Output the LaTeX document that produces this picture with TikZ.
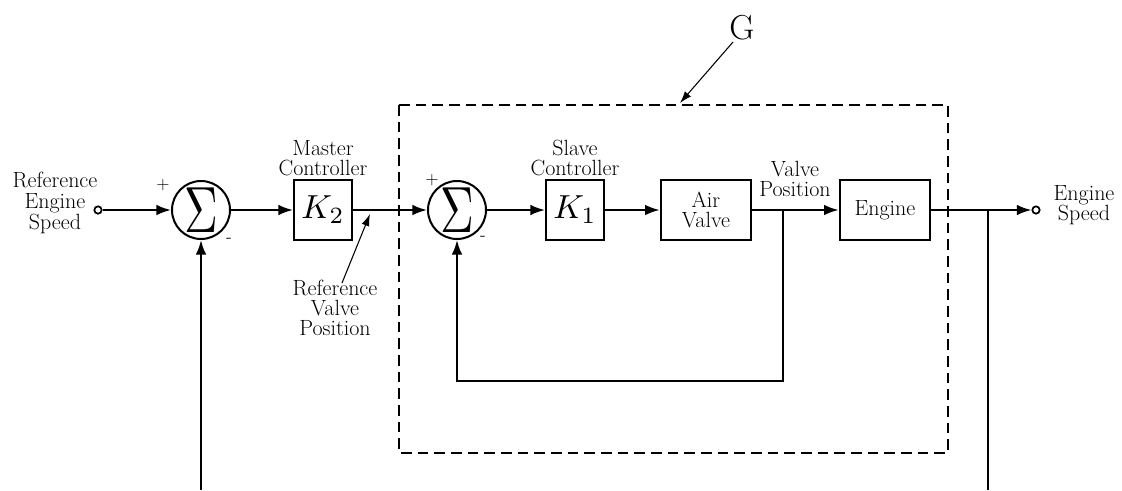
\documentclass[tikz,border=0pt]{standalone}
\usepackage{fontspec}
\usepackage{graphicx}
\usetikzlibrary{arrows.meta}
\begin{document}
\begin{tikzpicture}[x=0.75pt,y=-0.75pt,
  every node/.style={font=\fontsize{16.5}{15}\selectfont},
  ln/.style={line width=1.5pt},
  arr/.style={ln,-{Latex[length=11pt,width=8pt]}},
  thinarr/.style={line width=0.8pt,-{Latex[length=9pt,width=6pt]}},
  blk/.style={draw,line width=1.5pt,minimum width=43.5pt,minimum height=45pt,inner sep=0pt,font=\fontsize{10}{10}\selectfont},
  wblk/.style={draw,line width=1.5pt,minimum width=68pt,minimum height=44.5pt,inner sep=0pt,align=center},
  sumc/.style={draw,circle,line width=1.5pt,minimum size=43.5pt,inner sep=0pt,font=\fontsize{10}{10}\selectfont},
  port/.style={draw,circle,line width=1.3pt,minimum size=5.5pt,inner sep=0pt,fill=white},
  lbl/.style={align=center,inner sep=0pt},
  sgn/.style={inner sep=0pt,font=\fontsize{13}{13}\selectfont}
]
\useasboundingbox (0,0) rectangle (1122,490);

% dashed boundary of G
\draw[line width=1.3pt,dash pattern=on 8pt off 4.5pt] (399,105) rectangle (948,453);

% nodes
\node[port] (in) at (98,210) {};
\node[sumc] (s1) at (201,210) {\scalebox{3.5}[4.9]{$\Sigma$}};
\node[blk] (k2) at (323,210) {\scalebox{2.5}{$K_2$}};
\node[sumc] (s2) at (457,210) {\scalebox{3.5}[4.9]{$\Sigma$}};
\node[blk] (k1) at (575,210) {\scalebox{2.5}{$K_1$}};
\node[wblk] (av) at (706,210) {Air\\Valve};
\node[wblk] (eng) at (885,210) {Engine};
\node[port] (out) at (1036,210) {};

% labels
\node[lbl] (lref) at (55,203) {Reference\\[0.5pt]Engine\\[0.5pt]Speed};
\node[lbl] (lmc) at (323,158) {Master\\[0.5pt]Controller};
\node[lbl] (lsc) at (575,158) {Slave\\[0.5pt]Controller};
\node[lbl] (lvp) at (795,179) {Valve\\Position};
\node[lbl] (lrvp) at (335,308) {Reference\\Valve\\Position};
\node[lbl] (les) at (1084,205) {Engine\\Speed};
\node[inner sep=0pt,font=\fontsize{26}{26}\selectfont] (G) at (742,28) {G};
\node[sgn] (p1) at (163,185) {+};
\node[sgn] (m1) at (229,240) {-};
\node[sgn] (p2) at (432,180) {+};
\node[sgn] (m2) at (483,238) {-};

% coordinates
\coordinate (f1) at (201,490);
\coordinate (b1) at (783,210);
\coordinate (fb) at (783,381);
\coordinate (b2) at (988,210);
\coordinate (b2d) at (988,490);
\coordinate (gs) at (733,42);
\coordinate (gt) at (680,103);
\coordinate (rs) at (342,283);
\coordinate (rt) at (370,214);

% connectors
\draw[arr] (in) -- (s1);
\draw[arr] (s1) -- (k2);
\draw[arr] (k2) -- (s2);
\draw[arr] (s2) -- (k1);
\draw[arr] (k1) -- (av);
\draw[arr] (av) -- (eng);
\draw[arr] (eng) -- (out);
\draw[arr] (f1) -- (s1.south);
\draw[arr] (b1) -- (fb) -| (s2.south);
\draw[ln] (b2d) -- (b2);
\draw[thinarr] (gs) -- (gt);
\draw[thinarr] (rs) -- (rt);
\end{tikzpicture}
\end{document}
